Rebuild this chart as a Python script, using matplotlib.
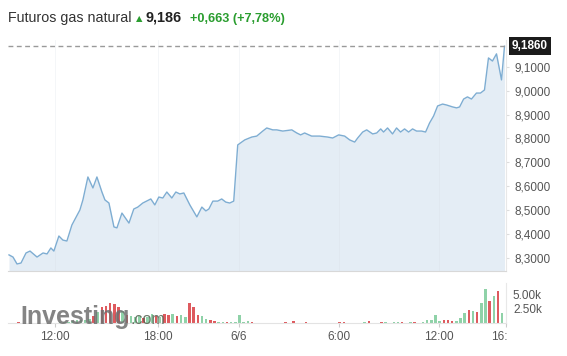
import matplotlib
matplotlib.use("Agg")
import matplotlib.pyplot as plt
from matplotlib.patches import Rectangle

plt.rcParams['font.family'] = ['Liberation Sans', 'DejaVu Sans']

# ---------------- data ----------------
# hours elapsed since session start (session-hour axis)
price_t = [0.06, 0.30, 0.54, 0.78, 1.08, 1.32, 1.74, 2.10, 2.34, 2.57, 2.75, 3.05, 3.29, 3.53,
           3.83, 4.31, 4.49, 4.79, 5.09, 5.33, 5.63, 5.81, 6.05, 6.35, 6.53, 6.83, 7.25, 7.54,
           7.78, 8.08, 8.56, 8.80, 9.04, 9.28, 9.52, 9.82, 10.06, 10.30, 10.54, 10.90, 11.32,
           11.62, 11.86, 12.04, 12.28, 12.57, 12.81, 13.05, 13.29, 13.53, 13.77, 14.19, 14.61,
           14.91, 15.27, 15.51, 15.87, 16.11, 16.47, 17.01, 17.31, 17.54, 17.78, 18.20, 18.68,
           19.16, 19.46, 19.82, 20.18, 20.48, 20.78, 20.96, 21.26, 21.50, 21.86, 22.10, 22.34,
           22.51, 22.75, 23.05, 23.29, 23.53, 23.77, 24.01, 24.25, 24.49, 24.79, 25.03, 25.27,
           25.51, 25.75, 26.05, 26.29, 26.65, 26.89, 27.07, 27.31, 27.54, 27.78, 28.08, 28.32,
           28.56, 28.80, 29.04, 29.28, 29.58, 29.76]
price = [8.313, 8.304, 8.275, 8.279, 8.321, 8.329, 8.304, 8.321, 8.317, 8.342, 8.329, 8.392,
         8.375, 8.371, 8.438, 8.501, 8.543, 8.639, 8.593, 8.639, 8.576, 8.543, 8.530, 8.430,
         8.426, 8.488, 8.446, 8.505, 8.513, 8.530, 8.547, 8.522, 8.555, 8.551, 8.576, 8.551,
         8.576, 8.568, 8.572, 8.522, 8.472, 8.513, 8.497, 8.505, 8.538, 8.538, 8.547, 8.534,
         8.530, 8.538, 8.773, 8.794, 8.806, 8.810, 8.831, 8.844, 8.836, 8.836, 8.831, 8.836,
         8.823, 8.815, 8.823, 8.810, 8.810, 8.806, 8.802, 8.815, 8.810, 8.794, 8.785, 8.802,
         8.827, 8.836, 8.819, 8.823, 8.840, 8.827, 8.844, 8.819, 8.844, 8.827, 8.840, 8.827,
         8.840, 8.831, 8.831, 8.827, 8.865, 8.894, 8.936, 8.944, 8.940, 8.932, 8.928, 8.932,
         8.965, 8.974, 8.965, 8.990, 8.990, 9.003, 9.137, 9.124, 9.154, 9.045, 9.186]

last_price = 9.186
change = "+0,663"
change_pct = "(+7,78%)"

# 15-minute volume bars (thousands); 1 = up (green), 0 = down (red)
volume = [0.08, 0.06, 0.25, 0.06, 0.05, 0.07, 0.05, 0.06, 0.05, 0.08, 0.06, 0.07, 0.10, 0.12,
          0.20, 0.40, 0.50, 0.60, 0.50, 0.80, 1.20, 2.00, 2.90, 3.10, 3.60, 3.40, 2.80, 2.20,
          1.50, 1.20, 1.00, 1.30, 0.90, 1.10, 1.60, 1.20, 1.00, 1.60, 1.40, 1.60, 1.20, 1.50,
          1.10, 3.50, 2.80, 1.50, 1.20, 0.70, 0.50, 0.40, 0.20, 0.15, 0.15, 0.10, 0.10, 1.50,
          0.15, 0.30, 0.10, 0.08, 0.06, 0.08, 0.05, 0.07, 0.06, 0.05, 0.20, 0.06, 0.30, 0.07,
          0.06, 0.10, 0.05, 0.06, 0.08, 0.05, 0.07, 0.06, 0.05, 0.22, 0.25, 0.08, 0.06, 0.05,
          0.07, 0.10, 0.30, 0.08, 0.06, 0.10, 0.12, 0.08, 0.10, 0.12, 0.10, 0.08, 0.12, 0.10,
          0.08, 0.10, 0.60, 0.50, 1.40, 0.30, 0.45, 0.50, 0.40, 0.40, 0.90, 1.80, 2.30, 2.10,
          2.00, 3.60, 6.10, 3.90, 4.80, 5.70, 1.80]
direction = [1, 1, 0, 1, 0, 1, 1, 0, 1, 1, 0, 1, 1, 1,
             1, 1, 1, 1, 1, 1, 0, 1, 0, 0, 0, 0, 0, 1,
             0, 1, 1, 1, 0, 1, 1, 0, 1, 0, 0, 1, 0, 1,
             1, 0, 0, 0, 1, 1, 0, 0, 1, 1, 0, 1, 1, 1,
             1, 1, 0, 1, 0, 1, 1, 0, 1, 0, 0, 1, 0, 1,
             1, 0, 1, 0, 1, 1, 0, 1, 1, 0, 0, 1, 0, 1,
             0, 1, 0, 1, 1, 0, 1, 0, 1, 1, 0, 1, 1, 0,
             1, 1, 1, 1, 1, 1, 0, 0, 0, 1, 1, 1, 0, 1,
             0, 1, 1, 0, 1, 0, 1]
bar_step = 0.25

tick_pos = [2.81, 8.98, 13.83, 19.82, 25.81, 29.85]
tick_labels = ["12:00", "18:00", "6/6", "6:00", "12:00", "16:00"]
price_ticks = [8.3, 8.4, 8.5, 8.6, 8.7, 8.8, 8.9, 9.0, 9.1]
vol_ticks = [2.5, 5.0]

# ---------------- style ----------------
W, H = 567, 356
LINE = '#7eadd2'
FILL = '#e4edf5'
GREEN_BAR = '#8fd2a8'
RED_BAR = '#de5a5e'
TXT = '#555555'
XMIN, XMAX = 0.0, 29.85

fig = plt.figure(figsize=(W / 100, H / 100), dpi=100)
fig.patch.set_facecolor('white')

def fx(px):
    return px / W

def fy(py):
    return 1 - py / H

# price axes
ax = fig.add_axes([fx(8), fy(271), fx(498), 231 / H])
ymin, ymax = 8.2456, 9.212
ax.set_xlim(XMIN, XMAX)
ax.set_ylim(ymin, ymax)
ax.fill_between(price_t, price, ymin, color=FILL, lw=0, zorder=1)
ax.plot(price_t, price, color=LINE, lw=1.0, zorder=3)
for tp in tick_pos[:-1]:
    ax.axvline(tp, color='#d5dde5', lw=0.6, alpha=0.3, zorder=2)
ax.axhline(last_price, color='#9a9a9a', lw=1.0, ls=(0, (3.5, 2.5)), zorder=4)
ax.yaxis.tick_right()
ax.set_yticks(price_ticks)
ax.set_yticklabels([f"{v:.4f}".replace('.', ',') for v in price_ticks])
ax.tick_params(axis='y', length=2, color='#dddddd', pad=4, labelsize=8.5, labelcolor=TXT)
ax.set_xticks([])
for s in ['top', 'left']:
    ax.spines[s].set_visible(False)
ax.spines['bottom'].set_color('#d8d8d8')
ax.spines['right'].set_color('#e8e8e8')
ax.set_facecolor('none')

# last price label box
ax.annotate(f"{last_price:.4f}".replace('.', ','), xy=(1.0, last_price),
            xycoords=('axes fraction', 'data'), xytext=(4, 0), textcoords='offset points',
            ha='left', va='center', fontsize=8.5, fontweight='bold', color='white',
            bbox=dict(boxstyle='square,pad=0.25', fc='#1b1b1b', ec='none'),
            annotation_clip=False, zorder=6)

# volume axes
axv = fig.add_axes([fx(8), fy(323), fx(498), 40 / H])
axv.set_xlim(XMIN, XMAX)
axv.set_ylim(0, 7.14)
bar_t = [bar_step / 2 + bar_step * i for i in range(len(volume))]
colors = [GREEN_BAR if d == 1 else RED_BAR for d in direction]
axv.bar(bar_t, volume, width=0.15, color=colors, lw=0, zorder=2)
axv.yaxis.tick_right()
axv.set_yticks(vol_ticks)
axv.set_yticklabels([f"{v:.2f}k" for v in vol_ticks])
axv.tick_params(axis='y', length=0, pad=5, labelsize=8.5, labelcolor=TXT)
axv.set_xticks(tick_pos)
axv.set_xticklabels(tick_labels)
axv.tick_params(axis='x', length=3, color='#cccccc', pad=3, labelsize=8.5, labelcolor=TXT)
for s in ['top', 'left']:
    axv.spines[s].set_visible(False)
axv.spines['bottom'].set_color('#e3e3e3')
axv.spines['right'].set_color('#e8e8e8')
axv.set_facecolor('none')

# cover the clipped part of the last time label
fig.patches.append(Rectangle((fx(507), fy(348)), fx(60), 22 / H, transform=fig.transFigure,
                             fc='white', ec='none', zorder=10))

# watermark
fig.text(fx(20), fy(324), "Investing", fontsize=18, fontweight='bold', color='#6f6f6f',
         alpha=0.85, ha='left', va='baseline', zorder=5)
fig.text(fx(130), fy(324), ".com", fontsize=11.5, color='#52614f', alpha=0.85,
         ha='left', va='baseline', zorder=5)

# header
fig.text(fx(8), fy(22), "Futuros gas natural", fontsize=10.3, color='#333333',
         ha='left', va='baseline')
fig.text(fx(136), fy(21), "\u25B2", fontsize=6, color='#2a9d2f', ha='left', va='baseline',
         family='DejaVu Sans')
fig.text(fx(146), fy(22), f"{last_price:.3f}".replace('.', ','), fontsize=10.4,
         fontweight='bold', color='#222222', ha='left', va='baseline')
fig.text(fx(190), fy(22), change + " " + change_pct, fontsize=9.2, fontweight='bold',
         color='#2a9d2f', ha='left', va='baseline')

fig.savefig("out.png", dpi=100, facecolor='white')
